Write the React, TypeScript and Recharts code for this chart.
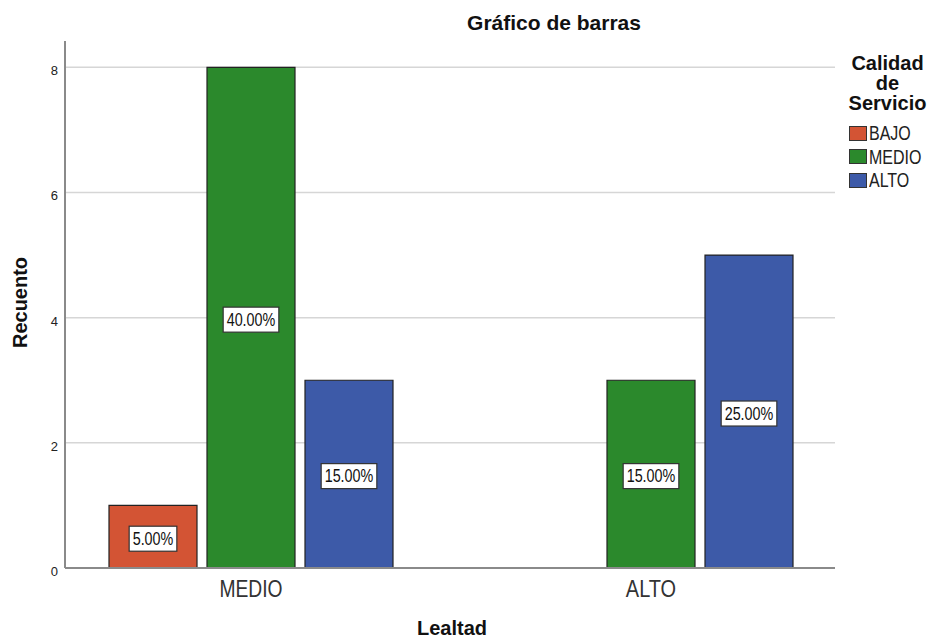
import React from 'react';
import { BarChart, Bar, XAxis, YAxis, CartesianGrid, LabelList, Label } from 'recharts';

const categories = ['MEDIO', 'ALTO'];
const bajo = [1, 0];
const medio = [8, 3];
const alto = [3, 5];
const total = 20;

const series = [
  { key: 'BAJO', color: '#d35434' },
  { key: 'MEDIO', color: '#2b892c' },
  { key: 'ALTO', color: '#3d5aa8' },
];

const data = categories.map((c, i) => ({ name: c, BAJO: bajo[i], MEDIO: medio[i], ALTO: alto[i] }));

const FONT = '"Liberation Sans", Arial, sans-serif';
// condensed look: regular face squeezed horizontally
const SQUEEZE = 0.82;

const widths: Record<string, number> = {
  '.': 0.278, '%': 0.889, M: 0.833, E: 0.667, D: 0.722, I: 0.278, O: 0.778, A: 0.667, L: 0.556, T: 0.611,
};
const textWidth = (s: string, size: number) =>
  s.split('').reduce((acc, ch) => acc + (widths[ch] ?? 0.556), 0) * size * SQUEEZE;

const PctLabel = (props: any) => {
  const { x, y, width, height, value } = props;
  if (!value) return null;
  const text = `${((value / total) * 100).toFixed(2)}%`;
  const size = 17.5;
  const tw = textWidth(text, size);
  const w = tw + 7;
  const h = 25;
  const cx = x + width / 2;
  const cy = y + height / 2 + 2;
  return (
    <g>
      <rect x={cx - w / 2} y={cy - h / 2} width={w} height={h} fill="#ffffff" stroke="#333333" strokeWidth={1.2} />
      <text
        x={cx}
        y={cy + 6.3}
        textAnchor="middle"
        fontSize={size}
        fontFamily={FONT}
        fill="#111"
        textLength={tw}
        lengthAdjust="spacingAndGlyphs"
      >
        {text}
      </text>
    </g>
  );
};

const XTick = (props: any) => {
  const { x, y, payload } = props;
  const size = 23.5;
  return (
    <text
      x={x}
      y={y + 21}
      textAnchor="middle"
      fontSize={size}
      fontFamily={FONT}
      fill="#333"
      textLength={textWidth(payload.value, size)}
      lengthAdjust="spacingAndGlyphs"
    >
      {payload.value}
    </text>
  );
};

const YTick = (props: any) => {
  const { x, y, payload } = props;
  return (
    <text x={x + 1} y={y + 8} textAnchor="end" fontSize={13} fontFamily={FONT} fill="#222">
      {payload.value}
    </text>
  );
};

const LegendBox = () => (
  <div style={{ position: 'absolute', top: 0, left: 0 }}>
    <div
      style={{
        position: 'absolute',
        top: 53,
        left: 827.5,
        width: 120,
        fontFamily: FONT,
        fontWeight: 'bold',
        fontSize: 20,
        lineHeight: '20px',
        textAlign: 'center',
        color: '#111',
      }}
    >
      Calidad
      <br />
      de
      <br />
      Servicio
    </div>
    {series.map((s, i) => (
      <div
        key={s.key}
        style={{
          position: 'absolute',
          top: 121 + i * 23.5,
          left: 849,
          height: 24,
          display: 'flex',
          alignItems: 'center',
        }}
      >
        <div style={{ width: 16, height: 13, background: s.color, border: '1px solid #333', marginRight: 2 }} />
        <span
          style={{
            fontFamily: FONT,
            fontSize: 19.5,
            color: '#222',
            lineHeight: '24px',
            display: 'inline-block',
            transform: `scaleX(${SQUEEZE})`,
            transformOrigin: 'left center',
          }}
        >
          {s.key}
        </span>
      </div>
    ))}
  </div>
);

export default function App() {
  return (
    <div style={{ position: 'relative', width: 931, height: 639, background: '#fff', fontFamily: FONT }}>
      <style>{'body{margin:0}'}</style>
      <div
        style={{
          position: 'absolute',
          top: 11,
          left: 454,
          width: 200,
          textAlign: 'center',
          fontWeight: 'bold',
          fontSize: 21,
          lineHeight: '24px',
          color: '#111',
        }}
      >
        Gráfico de barras
      </div>
      <BarChart
        width={931}
        height={639}
        data={data}
        margin={{ top: 41, right: 96, bottom: 41, left: 25 }}
        barSize={88}
        barGap={10}
      >
        <CartesianGrid vertical={false} horizontalValues={[2, 4, 6, 8]} stroke="#d6d6d6" strokeWidth={1.5} />
        <XAxis
          dataKey="name"
          height={30}
          padding={{ left: -14, right: -16 }}
          tickLine={false}
          axisLine={{ stroke: '#8a8a8a', strokeWidth: 2 }}
          tick={<XTick />}
        >
          <Label
            value="Lealtad"
            position="bottom"
            offset={23}
            dx={2}
            style={{ fontFamily: FONT, fontWeight: 'bold', fontSize: 20, fill: '#111' }}
          />
        </XAxis>
        <YAxis
          width={40}
          domain={[0, 8.42]}
          ticks={[0, 2, 4, 6, 8]}
          tickLine={false}
          axisLine={{ stroke: '#8a8a8a', strokeWidth: 2 }}
          tick={<YTick />}
        >
          <Label
            value="Recuento"
            angle={-90}
            position="insideLeft"
            offset={-5}
            dy={-2}
            style={{ fontFamily: FONT, fontWeight: 'bold', fontSize: 20, fill: '#111', textAnchor: 'middle' }}
          />
        </YAxis>
        {series.map((s) => (
          <Bar key={s.key} dataKey={s.key} fill={s.color} stroke="#222" strokeWidth={1.2} isAnimationActive={false}>
            <LabelList dataKey={s.key} content={<PctLabel />} />
          </Bar>
        ))}
      </BarChart>
      <LegendBox />
    </div>
  );
}
